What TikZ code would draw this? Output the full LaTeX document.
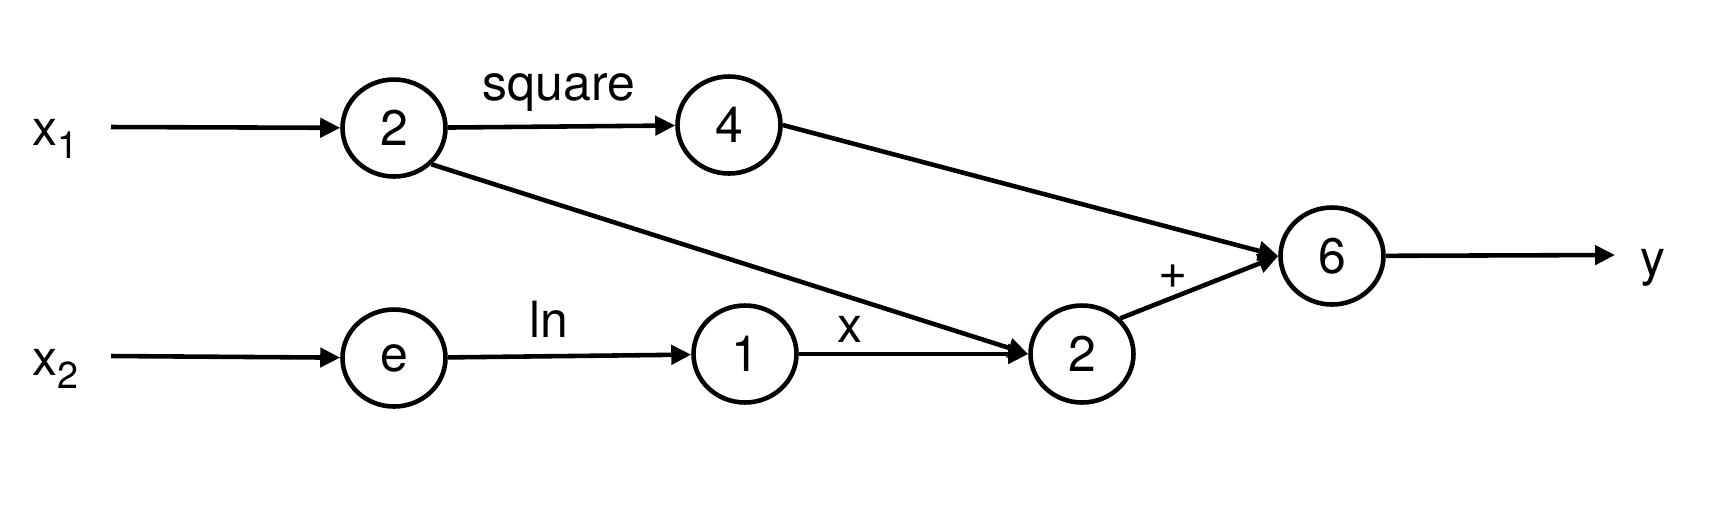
\documentclass[tikz,border=0pt]{standalone}
\usepackage{fontspec}
\setmainfont{TeX Gyre Heros}
\usetikzlibrary{calc,arrows.meta,shapes.geometric}

\begin{document}
\begin{tikzpicture}[every node/.style={font=\fontsize{14.2}{17}\selectfont},
 val/.style={draw,shape=ellipse,line width=1.3pt,inner sep=0pt,minimum width=1.03cm,minimum height=0.97cm},
 lbl/.style={inner sep=0pt,anchor=base},
 edge/.style={line width=1.3pt,-{Triangle[length=2mm,width=1.9mm]}}]
\useasboundingbox (0,0) rectangle (17.18,-5.04);
%Nodes
\path
 (3.94,-1.28) node[val] (p1) {2}
 (7.29,-1.25) node[val] (p2) {4}
 (3.94,-3.58) node[val] (p3) {e}
 (7.45,-3.54) node[val] (p4) {1}
 (10.82,-3.54) node[val] (p5) {2}
 (13.32,-2.56) node[val] (p6) {6}
 ;
\coordinate (i1) at (1.11,-1.27);
\coordinate (i2) at (1.11,-3.56);
\coordinate (o) at (16.15,-2.55);
%Edges
\draw[edge] (i1) -- (p1);
\draw[edge] (i2) -- (p3);
\draw[edge] (p1) -- (p2);
\draw[edge] (p1.-44) -- (p5.west);
\draw[edge] (p3) -- (p4);
\draw[edge] (p4) -- (p5);
\draw[edge] (p2.east) -- (p6.west);
\draw[edge] (p5.43) -- (p6.west);
\draw[edge] (p6) -- (o);

% Inputs, output and operations
\node[lbl,anchor=base west] (x1) at (0.32,-1.45) {x\raisebox{-0.28em}{\fontsize{10.7}{12}\selectfont 1}};
\node[lbl,anchor=base west] (x2) at (0.32,-3.75) {x\raisebox{-0.28em}{\fontsize{10.7}{12}\selectfont 2}};
\node[lbl,anchor=base west] (y) at (16.40,-2.75) {y};
\node[lbl] (sq) at (5.59,-1.00) {square};
\node[lbl] (ln) at (5.49,-3.37) {ln};
\node[lbl] (mul) at (8.50,-3.42) {x};
\node[lbl] (add) at (11.73,-2.88) {+};
\end{tikzpicture}
\end{document}
